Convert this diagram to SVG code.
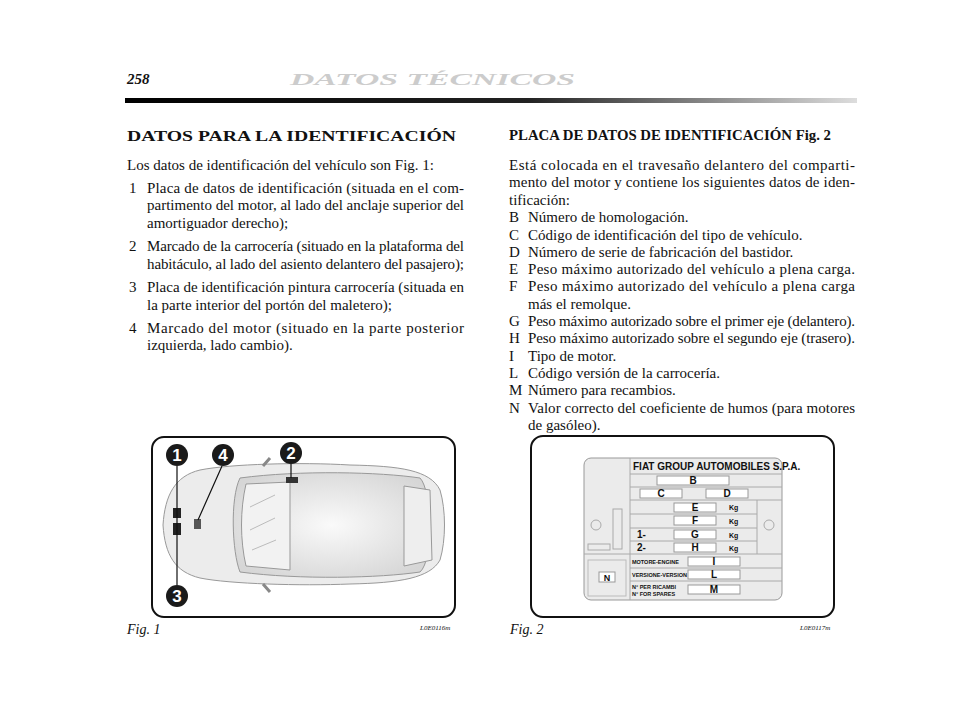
<svg xmlns="http://www.w3.org/2000/svg" width="960" height="709" viewBox="0 0 960 709">
<defs>
<linearGradient id="bar" x1="0" x2="1"><stop offset="0" stop-color="#000"/><stop offset="0.55" stop-color="#222"/><stop offset="1" stop-color="#ddd"/></linearGradient>
<radialGradient id="roof" cx="0.5" cy="0.5" r="0.6"><stop offset="0" stop-color="#fafafa"/><stop offset="1" stop-color="#d6d6d6"/></radialGradient>
</defs>
<style>
.t{font-family:"Liberation Serif",serif;font-size:15px;fill:#111}
.b{font-weight:bold}
.frame{fill:#fff;stroke:#111;stroke-width:2}
.ln{stroke:#aaa;stroke-width:1;fill:none}
.box{fill:#fff;stroke:#999;stroke-width:1}
.s{font-family:"Liberation Sans",sans-serif;font-weight:bold;fill:#111}
.car{fill:#ececec;stroke:#999;stroke-width:1}
.num{fill:#1a1a1a}
.nt{font-family:"Liberation Sans",sans-serif;font-weight:bold;font-size:17px;fill:#fff;text-anchor:middle}
.cap{font-family:"Liberation Serif",serif;font-style:italic;font-size:14px;fill:#111}
.code{font-family:"Liberation Serif",serif;font-style:italic;font-size:7px;fill:#111}
</style>
<rect width="960" height="709" fill="#fff"/>
<g id="header">
<text x="127" y="84" class="t b" font-style="italic" font-size="15">258</text>
<text x="290" y="85" font-family="Liberation Serif,serif" font-style="italic" font-weight="bold" font-size="17" fill="#ccc" textLength="285" lengthAdjust="spacingAndGlyphs">DATOS TÉCNICOS</text>
<rect x="125" y="98" width="732" height="5" fill="url(#bar)"/>
</g>
<g id="left-text">
<text x="127" y="141" class="t b" font-size="19" textLength="329" lengthAdjust="spacingAndGlyphs">DATOS PARA LA IDENTIFICACIÓN</text>
<text x="127" y="170" class="t">Los datos de identificación del vehículo son Fig. 1:</text>
<text x="129" y="193" class="t">1</text><text x="147" y="193" class="t" textLength="317">Placa de datos de identificación (situada en el com-</text>
<text x="147" y="210" class="t" textLength="317">partimento del motor, al lado del anclaje superior del</text>
<text x="147" y="228" class="t">amortiguador derecho);</text>
<text x="129" y="251" class="t">2</text><text x="147" y="251" class="t" textLength="317">Marcado de la carrocería (situado en la plataforma del</text>
<text x="147" y="269" class="t" textLength="317">habitáculo, al lado del asiento delantero del pasajero);</text>
<text x="129" y="292" class="t">3</text><text x="147" y="292" class="t" textLength="317">Placa de identificación pintura carrocería (situada en</text>
<text x="147" y="310" class="t">la parte interior del portón del maletero);</text>
<text x="129" y="333" class="t">4</text><text x="147" y="333" class="t" textLength="317">Marcado del motor (situado en la parte posterior</text>
<text x="147" y="350" class="t">izquierda, lado cambio).</text>
</g>
<g id="right-text">
<text x="509" y="140" class="t b" textLength="322" lengthAdjust="spacingAndGlyphs">PLACA DE DATOS DE IDENTIFICACIÓN Fig. 2</text>
<text x="509" y="170" class="t" textLength="346">Está colocada en el travesaño delantero del comparti-</text>
<text x="509" y="187" class="t" textLength="346">mento del motor y contiene los siguientes datos de iden-</text>
<text x="509" y="205" class="t">tificación:</text>
<text x="509" y="222" class="t">B</text><text x="528" y="222" class="t">Número de homologación.</text>
<text x="509" y="240" class="t">C</text><text x="528" y="240" class="t">Código de identificación del tipo de vehículo.</text>
<text x="509" y="257" class="t">D</text><text x="528" y="257" class="t">Número de serie de fabricación del bastidor.</text>
<text x="509" y="274" class="t">E</text><text x="528" y="274" class="t" textLength="327">Peso máximo autorizado del vehículo a plena carga.</text>
<text x="509" y="291" class="t">F</text><text x="528" y="291" class="t" textLength="327">Peso máximo autorizado del vehículo a plena carga</text>
<text x="528" y="309" class="t">más el remolque.</text>
<text x="509" y="326" class="t">G</text><text x="528" y="326" class="t" textLength="327">Peso máximo autorizado sobre el primer eje (delantero).</text>
<text x="509" y="343" class="t">H</text><text x="528" y="343" class="t" textLength="327">Peso máximo autorizado sobre el segundo eje (trasero).</text>
<text x="509" y="361" class="t">I</text><text x="528" y="361" class="t">Tipo de motor.</text>
<text x="509" y="378" class="t">L</text><text x="528" y="378" class="t">Código versión de la carrocería.</text>
<text x="509" y="395" class="t">M</text><text x="528" y="395" class="t">Número para recambios.</text>
<text x="509" y="413" class="t">N</text><text x="528" y="413" class="t" textLength="327">Valor correcto del coeficiente de humos (para motores</text>
<text x="528" y="430" class="t">de gasóleo).</text>
</g>
<g id="fig1">
<rect x="152" y="437" width="303" height="180" rx="12" class="frame"/>
<path class="car" d="M200,470 C230,464 300,462 350,465 C400,466 430,470 440,490 C446,510 446,540 440,560 C430,578 400,583 350,584 C300,586 230,584 200,578 C175,572 165,555 163,525 C165,495 175,476 200,470 Z"/>
<path fill="url(#roof)" stroke="#999" d="M240,478 C300,470 380,472 420,478 C432,490 434,560 420,572 C380,578 300,580 240,572 C232,552 230,498 240,478 Z"/>
<path d="M246,484 L290,482 L290,570 L246,566 C240,540 240,510 246,484 Z" fill="#f2f2f2" stroke="#999"/>
<path d="M250,507 L275,495 M250,530 L275,518 M252,550 L276,540" stroke="#bbb"/>
<path d="M404,486 L430,490 L432,560 L404,566 Z" fill="#eee" stroke="#999"/>
<path d="M263,466 L270,458 M263,584 L270,592" stroke="#888" stroke-width="3"/>
<rect x="173" y="508" width="8" height="10" fill="#222"/>
<rect x="173" y="523" width="8" height="12" fill="#222"/>
<rect x="194" y="519" width="7" height="10" fill="#555"/>
<rect x="286" y="477" width="12" height="6" fill="#333"/>
<path d="M177,466 L177,585 M222,466 L198,520 M291,464 L291,478" stroke="#111" stroke-width="1.2"/>
<circle cx="177" cy="455" r="11" class="num"/><text x="177" y="461" class="nt">1</text>
<circle cx="223" cy="455" r="11" class="num"/><text x="223" y="461" class="nt">4</text>
<circle cx="291" cy="453" r="11" class="num"/><text x="291" y="459" class="nt">2</text>
<circle cx="177" cy="596" r="11" class="num"/><text x="177" y="602" class="nt">3</text>
<text x="127" y="634" class="cap">Fig. 1</text>
<text x="420" y="630" class="code">L0E0116m</text>
</g>
<g id="fig2">
<rect x="531" y="436" width="303" height="181" rx="12" class="frame"/>
<rect x="584" y="458" width="198" height="142" rx="7" fill="#ebebeb" stroke="#999"/>
<path class="ln" d="M630,458 V600 M630,474 H782 M630,487 H782 M630,500 H782 M630,514 H757 M630,528 H757 M630,541 H757 M584,554 H782 M630,568 H782 M630,581 H782 M757,500 V554"/>
<rect x="588" y="560" width="38" height="36" fill="none" stroke="#bbb"/>
<rect x="613" y="509" width="9" height="40" fill="none" stroke="#aaa"/>
<rect x="588" y="544" width="22" height="6" fill="none" stroke="#aaa"/>
<circle cx="596" cy="525" r="5" fill="none" stroke="#aaa"/>
<circle cx="769" cy="525" r="5" fill="none" stroke="#aaa"/>
<text x="633" y="470" class="s" font-size="10">FIAT GROUP AUTOMOBILES S.P.A.</text>
<rect x="657" y="476" width="72" height="9" class="box"/><text x="693" y="484" class="s" font-size="10" text-anchor="middle">B</text>
<rect x="640" y="489" width="42" height="9" class="box"/><text x="661" y="497" class="s" font-size="10" text-anchor="middle">C</text>
<rect x="706" y="489" width="42" height="9" class="box"/><text x="727" y="497" class="s" font-size="10" text-anchor="middle">D</text>
<rect x="674" y="503" width="42" height="9" class="box"/><text x="695" y="511" class="s" font-size="10" text-anchor="middle">E</text>
<rect x="674" y="516" width="42" height="9" class="box"/><text x="695" y="524" class="s" font-size="10" text-anchor="middle">F</text>
<rect x="674" y="530" width="42" height="9" class="box"/><text x="695" y="538" class="s" font-size="10" text-anchor="middle">G</text>
<rect x="674" y="543" width="42" height="9" class="box"/><text x="695" y="551" class="s" font-size="10" text-anchor="middle">H</text>
<text x="729" y="510" class="s" font-size="7">Kg</text><text x="729" y="524" class="s" font-size="7">Kg</text>
<text x="729" y="538" class="s" font-size="7">Kg</text><text x="729" y="551" class="s" font-size="7">Kg</text>
<text x="637" y="538" class="s" font-size="10">1-</text><text x="637" y="551" class="s" font-size="10">2-</text>
<rect x="688" y="557" width="52" height="9" class="box"/><text x="714" y="565" class="s" font-size="10" text-anchor="middle">I</text>
<rect x="688" y="570" width="52" height="9" class="box"/><text x="714" y="578" class="s" font-size="10" text-anchor="middle">L</text>
<rect x="688" y="585" width="52" height="9" class="box"/><text x="714" y="593" class="s" font-size="10" text-anchor="middle">M</text>
<text x="632" y="564" class="s" font-size="5.5">MOTORE-ENGINE</text>
<text x="632" y="577" class="s" font-size="5.5">VERSIONE-VERSION</text>
<text x="632" y="589" class="s" font-size="5.5">N° PER RICAMBI</text>
<text x="632" y="596" class="s" font-size="5.5">N° FOR SPARES</text>
<rect x="599" y="572" width="16" height="10" class="box"/><text x="607" y="581" class="s" font-size="9" text-anchor="middle">N</text>
<text x="510" y="634" class="cap">Fig. 2</text>
<text x="800" y="630" class="code">L0E0117m</text>
</g>
</svg>
